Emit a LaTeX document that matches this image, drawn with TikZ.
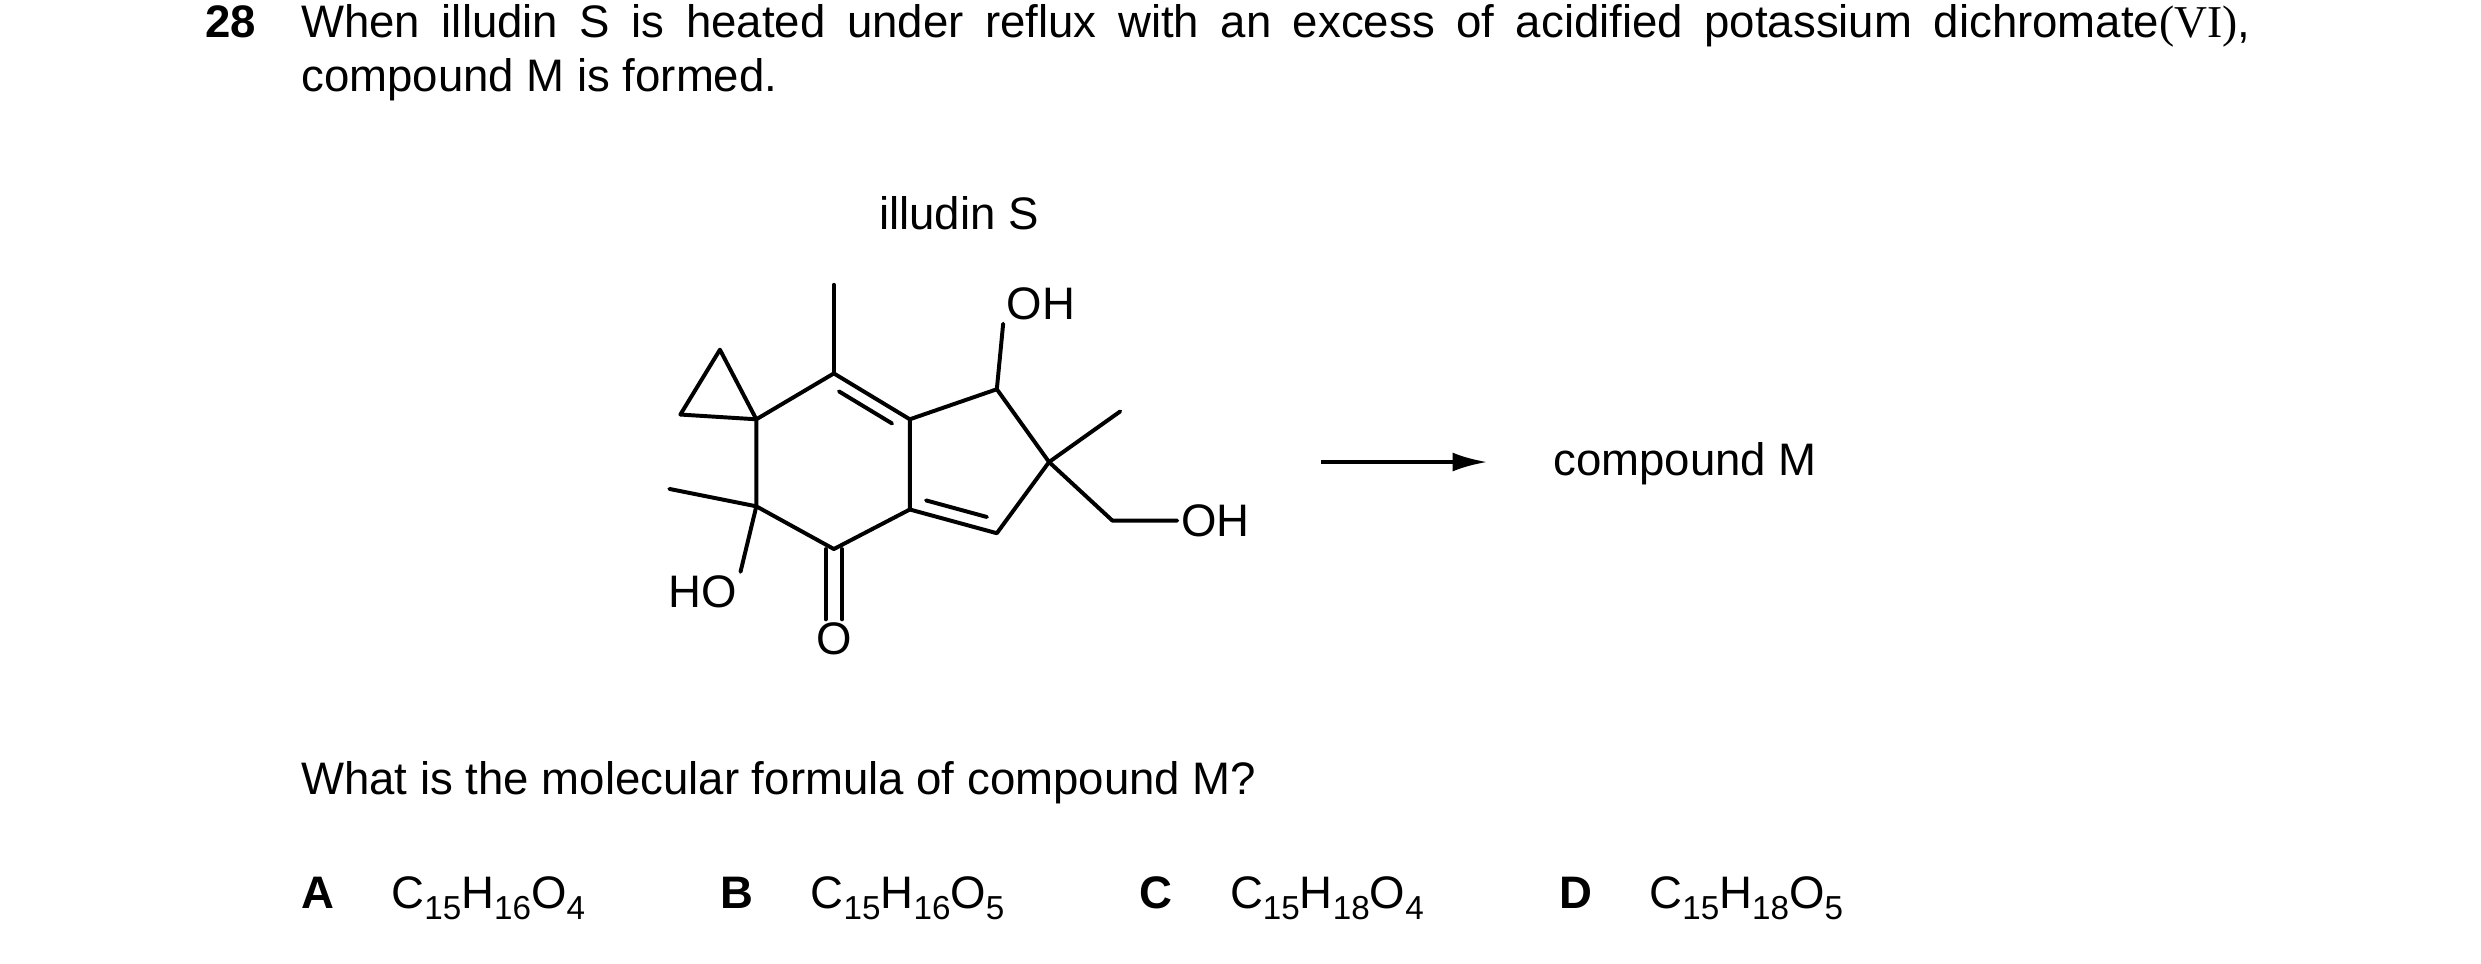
\documentclass[tikz,border=0pt]{standalone}
\usepackage{fontspec}
\setmainfont{Liberation Sans}
\newfontfamily\tms{Liberation Serif}
\usetikzlibrary{arrows.meta,calc}
\newcommand\sbx[1]{\raisebox{-0.45ex}{\fontsize{10.5pt}{12pt}\selectfont #1}}
\begin{document}
\begin{tikzpicture}[x=0.5pt,y=-0.5pt,
  bond/.style={line width=1.25pt,line cap=round, line join=round},
  txt/.style={font=\fontsize{14.4pt}{17pt}\selectfont, inner sep=0pt},
  atom/.style={font=\fontsize{14.4pt}{17pt}\selectfont, inner sep=1pt}]
\useasboundingbox (0,0) rectangle (1568,609);
% question text
\node[txt,anchor=base east,font=\fontsize{14.4pt}{17pt}\selectfont\bfseries] (num) at (162,24) {28};
\node[txt,anchor=base west] (q1) at (190,24) {\makebox[616pt][s]{When illudin S is heated under reflux with an excess of acidified potassium dichromate{\tms(VI)},}};
\node[txt,anchor=base west] (q2) at (190,58) {compound M is formed.};
\node[txt] (title) at (606,135) {illudin S};
% atoms
\coordinate (ca) at (455,221);
\coordinate (cb) at (430,262);
\coordinate (c1) at (478,265);
\coordinate (c2) at (527,236);
\coordinate (c3) at (575,265);
\coordinate (c4) at (575,322);
\coordinate (c5) at (527,347);
\coordinate (c6) at (478,320);
\coordinate (c7) at (630,246);
\coordinate (c8) at (663,292);
\coordinate (c9) at (630,337);
\coordinate (me2) at (527,180);
\coordinate (me6) at (423,309);
\coordinate (me8) at (708,260);
\coordinate (ch2) at (703,329);
\node[atom] (ho6) at (444,374) {HO};
\node[atom] (o5) at (527,404) {O};
\node[atom] (oh7) at (658,192) {OH};
\node[atom] (oh2) at (768,329) {OH};
% bonds
\draw[bond] (c1)--(ca)--(cb)--(c1);
\draw[bond] (c1)--(c2)--(c3)--(c4)--(c5)--(c6)--(c1);
\draw[bond] (c3)--(c7)--(c8)--(c9)--(c4);
\draw[bond] ($(c2)!0.15!(c3)+(-4,7)$) -- ($(c2)!0.85!(c3)+(-4,7)$);
\draw[bond] ($(c4)!0.15!(c9)+(2,-8)$) -- ($(c4)!0.85!(c9)+(2,-8)$);
\draw[bond] (c2)--(me2);
\draw[bond] (c6)--(me6);
\draw[bond] (c6)--(ho6.north east);
\draw[bond] (c8)--(me8);
\draw[bond] (c8)--(ch2)--(oh2.west);
\draw[bond] (c7)--(oh7.south west);
\draw[bond] ([xshift=-2.6]c5)--([xshift=-2.6]o5.north);
\draw[bond] ([xshift=2.6]c5)--([xshift=2.6]o5.north);
% reaction
\coordinate (as) at (835,292);
\node[txt] (m) at (1065,293) {compound M};
\draw[line width=1.25pt,-{Latex[length=11pt,width=6pt]}] (as) -- (940,292);
% question
\node[txt,anchor=base west] (q3) at (190,502) {What is the molecular formula of compound M?};
\foreach \l/\x/\f in {A/190/{C\sbx{15}H\sbx{16}O\sbx{4}},B/455/{C\sbx{15}H\sbx{16}O\sbx{5}},C/720/{C\sbx{15}H\sbx{18}O\sbx{4}},D/985/{C\sbx{15}H\sbx{18}O\sbx{5}}}{
  \node[txt,anchor=base west,font=\fontsize{14.4pt}{17pt}\selectfont\bfseries] (opt\l) at (\x,574) {\l};
  \node[txt,anchor=base west] (f\l) at (\x+57,574) {\f};
}
\end{tikzpicture}
\end{document}
